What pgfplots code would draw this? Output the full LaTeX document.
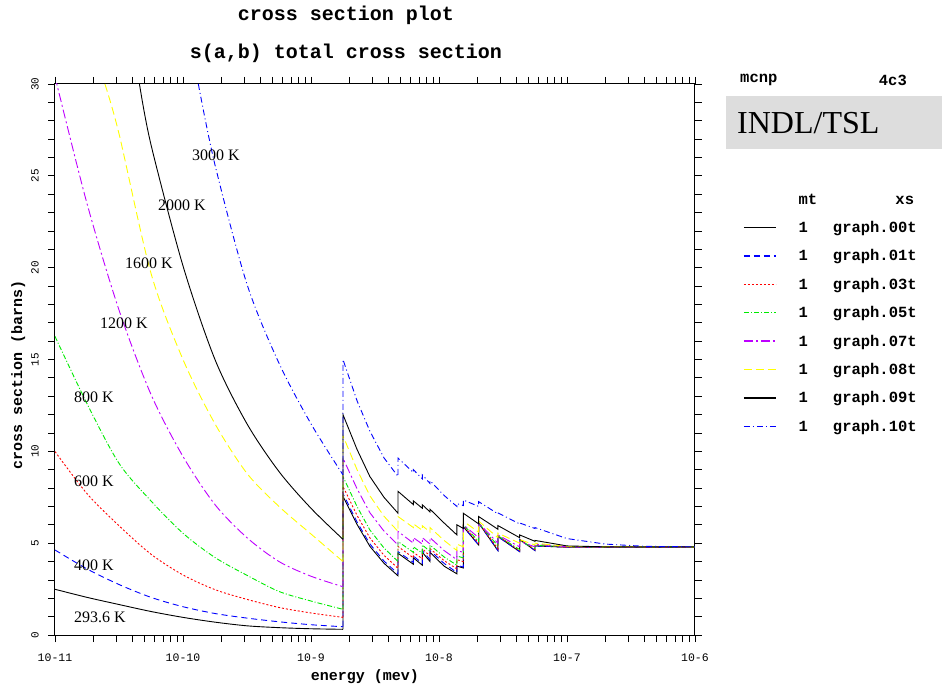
\documentclass[border=0pt]{standalone}
\usepackage{fontspec}
\setmainfont{Liberation Serif}
\setmonofont{Liberation Mono}
\usepackage{pgfplots}
\pgfplotsset{compat=1.18}
\definecolor{cpurple}{RGB}{190,0,255}
\definecolor{cblue}{RGB}{0,0,255}
\definecolor{cgreen}{RGB}{0,235,0}
\definecolor{cyellow}{RGB}{255,255,0}
\definecolor{cred}{RGB}{255,0,0}
\definecolor{boxgray}{RGB}{221,221,221}
\newcommand{\lgd}[2]{\makebox[118pt][l]{#1\hfill #2}}
\tikzset{
  s00/.style={color=black},
  s01/.style={color=cblue, dash pattern=on 6pt off 4pt},
  s03/.style={color=cred, dash pattern=on 2pt off 2pt},
  s05/.style={color=cgreen, dash pattern=on 5pt off 2pt on 1pt off 2pt},
  s07/.style={color=cpurple, dash pattern=on 9pt off 3pt on 2pt off 3pt},
  s08/.style={color=cyellow, dash pattern=on 8pt off 4pt},
  s09/.style={color=black},
  s10/.style={color=cblue, dash pattern=on 6pt off 3pt on 1pt off 3pt},
}
\begin{document}
\begin{tikzpicture}
\path[use as bounding box] (0pt,0pt) rectangle (942pt,686pt);
\begin{axis}[
  at={(55pt,51pt)}, anchor=south west,
  scale only axis, width=640pt, height=551pt,
  xmode=log, xmin=1e-11, xmax=1e-6, ymin=0, ymax=30,
  xtick={1e-11,1e-10,1e-9,1e-8,1e-7,1e-6},
  xticklabels={\texttt{10-11},\texttt{10-10},\texttt{10-9},\texttt{10-8},\texttt{10-7},\texttt{10-6}},
  ytick={0,5,10,15,20,25,30},
  yticklabels={\texttt{0},\texttt{5},\texttt{10},\texttt{15},\texttt{20},\texttt{25},\texttt{30}},
  minor y tick num=4,
  tick align=outside, major tick length=7pt, minor tick length=7pt,
  tick style={black, line width=0.8pt},
  axis line style={line width=1pt},
  xticklabel style={font=\fontsize{11.5}{12}\selectfont, anchor=center, yshift=-16pt},
  yticklabel style={font=\fontsize{11}{12}\selectfont, rotate=90, anchor=center, yshift=13pt},
  every axis plot/.append style={line width=0.9pt},
  legend style={draw=none, fill=none, at={(1.0703,0.806)}, anchor=north west,
    font=\ttfamily\bfseries\fontsize{15.5}{16}\selectfont,
    nodes={inner sep=0pt, text height=11pt, text depth=3pt},
    row sep=14.4pt, column sep=22pt},
  legend cell align=left,
  legend image code/.code={\draw[#1, line width=1.5pt] (0pt,1pt) -- (32pt,1pt);},
]
\addlegendimage{empty legend}
\addlegendentry{\lgd{mt}{xs\,}}

% ---- 293.6 K (graph.00t)
\addplot[s00, smooth, forget plot] coordinates {
(1e-11,2.49) (1.778e-11,2.05) (3.162e-11,1.66) (5.623e-11,1.28) (1e-10,0.96) (1.778e-10,0.70) (3.162e-10,0.50) (5.623e-10,0.40) (1e-9,0.34) (1.778e-9,0.31)};
\addplot[s00] coordinates {
(1.778e-9,0.31)
(1.778e-9,7.55) (2.291e-9,6.02) (2.884e-9,4.83) (3.715e-9,3.91) (4.786e-9,3.22)
(4.786e-9,4.45) (6.31e-9,3.85) (6.31e-9,4.2) (7.413e-9,3.8) (7.413e-9,4.5) (8.511e-9,4.0) (8.511e-9,4.5) (1.096e-8,3.75) (1.38e-8,3.33) (1.38e-8,3.75) (1.549e-8,3.65) (1.549e-8,5.9) (2.042e-8,4.9) (2.042e-8,6.1) (2.884e-8,4.6) (2.884e-8,5.36) (4.266e-8,4.54) (4.266e-8,5.2) (5.623e-8,4.6) (5.623e-8,4.85) (1e-7,4.78) (1e-6,4.78)};
\addlegendentry{\lgd{1}{graph.00t}}

% ---- 400 K (graph.01t)
\addplot[s01, smooth, forget plot] coordinates {
(1e-11,4.63) (1.778e-11,3.6) (3.162e-11,2.75) (5.623e-11,2.05) (1e-10,1.54) (1.778e-10,1.17) (3.162e-10,0.92) (5.623e-10,0.72) (1e-9,0.56) (1.778e-9,0.45)};
\addplot[s01] coordinates {
(1.778e-9,0.45)
(1.778e-9,7.7) (2.291e-9,6.15) (2.884e-9,4.96) (3.715e-9,4.03) (4.786e-9,3.33)
(4.786e-9,4.54) (6.31e-9,3.95) (6.31e-9,4.3) (7.413e-9,3.9) (7.413e-9,4.6) (8.511e-9,4.1) (8.511e-9,4.6) (1.096e-8,3.9) (1.38e-8,3.4) (1.38e-8,3.8) (1.549e-8,3.7) (1.549e-8,5.9) (2.042e-8,4.9) (2.042e-8,6.1) (2.884e-8,4.6) (2.884e-8,5.36) (4.266e-8,4.54) (4.266e-8,5.2) (5.623e-8,4.6) (5.623e-8,4.85) (1e-7,4.78) (1e-6,4.78)};
\addlegendentry{\lgd{1}{graph.01t}}

% ---- 600 K (graph.03t)
\addplot[s03, smooth, forget plot] coordinates {
(1e-11,9.99) (1.778e-11,7.7) (3.162e-11,5.95) (5.623e-11,4.4) (1e-10,3.27) (1.778e-10,2.47) (3.162e-10,1.94) (5.623e-10,1.5) (1e-9,1.2) (1.778e-9,0.96)};
\addplot[s03] coordinates {
(1.778e-9,0.96)
(1.778e-9,8.09) (2.291e-9,6.51) (2.884e-9,5.29) (3.715e-9,4.34) (4.786e-9,3.63)
(4.786e-9,4.82) (6.31e-9,4.2) (6.31e-9,4.5) (7.413e-9,4.15) (7.413e-9,4.7) (8.511e-9,4.3) (8.511e-9,4.7) (1.096e-8,4.05) (1.38e-8,3.6) (1.38e-8,4.1) (1.549e-8,4.0) (1.549e-8,5.95) (2.042e-8,5.0) (2.042e-8,6.1) (2.884e-8,4.7) (2.884e-8,5.4) (4.266e-8,4.6) (4.266e-8,5.2) (5.623e-8,4.65) (5.623e-8,4.9) (1e-7,4.78) (1e-6,4.78)};
\addlegendentry{\lgd{1}{graph.03t}}

% ---- 800 K (graph.05t)
\addplot[s05, smooth, forget plot] coordinates {
(1e-11,16.26) (1.778e-11,12.6) (3.162e-11,9.35) (5.623e-11,7.3) (1e-10,5.54) (1.778e-10,4.22) (3.162e-10,3.25) (5.623e-10,2.37) (1e-9,1.85) (1.778e-9,1.40)};
\addplot[s05] coordinates {
(1.778e-9,1.40)
(1.778e-9,8.63) (2.291e-9,6.99) (2.884e-9,5.72) (3.715e-9,4.74) (4.786e-9,4.0)
(4.786e-9,5.09) (6.31e-9,4.5) (6.31e-9,4.8) (7.413e-9,4.45) (7.413e-9,4.9) (8.511e-9,4.55) (8.511e-9,4.9) (1.096e-8,4.25) (1.38e-8,3.8) (1.38e-8,4.3) (1.549e-8,4.2) (1.549e-8,6.0) (2.042e-8,5.1) (2.042e-8,6.1) (2.884e-8,4.85) (2.884e-8,5.4) (4.266e-8,4.65) (4.266e-8,5.15) (5.623e-8,4.7) (5.623e-8,4.9) (1e-7,4.8) (1e-6,4.8)};
\addlegendentry{\lgd{1}{graph.05t}}

% ---- 1200 K (graph.07t)
\addplot[s07, smooth, forget plot] coordinates {
(1e-11,30.4) (1.778e-11,23.5) (3.162e-11,17.7) (5.623e-11,13.1) (1e-10,9.72) (1.778e-10,7.1) (3.162e-10,5.3) (5.623e-10,4.0) (1e-9,3.2) (1.778e-9,2.63)};
\addplot[s07] coordinates {
(1.778e-9,2.63)
(1.778e-9,9.63) (2.291e-9,7.96) (2.884e-9,6.66) (3.715e-9,5.66) (4.786e-9,4.9)
(4.786e-9,5.64) (6.31e-9,5.0) (6.31e-9,5.3) (7.413e-9,4.95) (7.413e-9,5.3) (8.511e-9,4.95) (8.511e-9,5.3) (1.096e-8,4.6) (1.38e-8,4.1) (1.38e-8,4.6) (1.549e-8,4.5) (1.549e-8,6.0) (2.042e-8,5.3) (2.042e-8,6.1) (2.884e-8,5.0) (2.884e-8,5.45) (4.266e-8,4.8) (4.266e-8,5.1) (5.623e-8,4.8) (5.623e-8,4.95) (1e-7,4.8) (1e-6,4.8)};
\addlegendentry{\lgd{1}{graph.07t}}

% ---- 1600 K (graph.08t)
\addplot[s08, smooth, forget plot] coordinates {
(2.455e-11,30) (3.162e-11,27.3) (5.623e-11,19.7) (1e-10,15.0) (1.778e-10,11.5) (3.162e-10,8.8) (5.623e-10,7.0) (1e-9,5.5) (1.778e-9,4.0)};
\addplot[s08] coordinates {
(1.778e-9,4.0)
(1.778e-9,10.85) (2.291e-9,9.0) (2.884e-9,7.58) (3.715e-9,6.47) (4.786e-9,5.64)
(4.786e-9,6.45) (6.31e-9,5.85) (6.31e-9,6.05) (7.413e-9,5.7) (7.413e-9,5.95) (8.511e-9,5.6) (8.511e-9,5.85) (1.096e-8,5.15) (1.38e-8,4.6) (1.38e-8,4.95) (1.549e-8,4.8) (1.549e-8,6.2) (2.042e-8,5.6) (2.042e-8,6.2) (2.884e-8,5.3) (2.884e-8,5.55) (4.266e-8,5.0) (4.266e-8,5.2) (5.623e-8,4.9) (5.623e-8,5.0) (1e-7,4.82) (1e-6,4.8)};
\addlegendentry{\lgd{1}{graph.08t}}

% ---- 2000 K (graph.09t)
\addplot[s09, smooth, forget plot] coordinates {
(4.571e-11,30) (5.623e-11,26.7) (1e-10,20.1) (1.778e-10,15.0) (3.162e-10,11.5) (5.623e-10,8.9) (1e-9,6.9) (1.778e-9,5.21)};
\addplot[s09] coordinates {
(1.778e-9,5.21)
(1.778e-9,12.0) (2.291e-9,10.1) (2.884e-9,8.63) (3.715e-9,7.5) (4.786e-9,6.63)
(4.786e-9,7.82) (6.31e-9,7.1) (6.31e-9,7.3) (7.413e-9,6.9) (7.413e-9,7.09) (8.511e-9,6.7) (8.511e-9,6.85) (1.096e-8,6.1) (1.38e-8,5.45) (1.38e-8,6.0) (1.549e-8,5.8) (1.549e-8,6.63) (2.042e-8,6.05) (2.042e-8,6.45) (2.884e-8,5.76) (2.884e-8,5.96) (4.266e-8,5.3) (4.266e-8,5.45) (5.623e-8,5.1) (5.623e-8,5.15) (1e-7,4.85) (2e-7,4.8) (1e-6,4.8)};
\addlegendentry{\lgd{1}{graph.09t}}

% ---- 3000 K (graph.10t)
\addplot[s10, smooth, forget plot] coordinates {
(1.318e-10,30) (1.778e-10,25.6) (3.162e-10,19.1) (5.623e-10,14.8) (1e-9,11.5) (1.778e-9,8.72)};
\addplot[s10] coordinates {
(1.778e-9,8.72)
(1.778e-9,15.0) (2.291e-9,12.75) (2.884e-9,11.1) (3.715e-9,9.65) (4.786e-9,8.63)
(4.786e-9,9.63) (6.31e-9,8.85) (6.31e-9,9.0) (7.413e-9,8.5) (7.413e-9,8.72) (8.511e-9,8.25) (8.511e-9,8.4) (1.096e-8,7.6) (1.38e-8,7.0) (1.38e-8,7.15) (1.549e-8,7.05) (1.549e-8,7.35) (2.042e-8,7.0) (2.042e-8,7.26) (2.884e-8,6.6) (2.884e-8,6.65) (4.266e-8,6.05) (4.266e-8,6.1) (5.623e-8,5.8) (5.623e-8,5.85) (1e-7,5.25) (2e-7,4.95) (4e-7,4.83) (1e-6,4.8)};
\addlegendentry{\lgd{1}{graph.10t}}
\end{axis}

% titles and labels
\node[anchor=base, font=\ttfamily\bfseries\fontsize{20}{22}\selectfont] at (346pt,665pt) {cross section plot};
\node[anchor=base, font=\ttfamily\bfseries\fontsize{20}{22}\selectfont] at (346pt,627pt) {s(a,b) total cross section};
\node[anchor=base, font=\ttfamily\bfseries\fontsize{15}{16}\selectfont] at (365pt,6pt) {energy (mev)};
\node[anchor=base, rotate=90, font=\ttfamily\bfseries\fontsize{15}{16}\selectfont] at (22pt,311pt) {cross section (barns)};

\node[anchor=west, font=\ttfamily\bfseries\fontsize{15.5}{16}\selectfont, inner sep=0pt] at (740pt,606pt) {mcnp};
\node[anchor=east, font=\ttfamily\bfseries\fontsize{15.5}{16}\selectfont, inner sep=0pt] at (907pt,606pt) {4c3};
\fill[boxgray] (726pt,590pt) rectangle (942pt,537pt);
\node[anchor=west, font=\fontsize{32}{34}\selectfont, inner sep=0pt] at (737pt,563pt) {INDL/TSL};

% temperature labels
\begin{scope}[every node/.style={anchor=west, inner sep=0pt, font=\fontsize{16}{18}\selectfont}]
\node at (192pt,531pt) {3000 K};
\node at (158pt,481pt) {2000 K};
\node at (125pt,423pt) {1600 K};
\node at (100pt,363pt) {1200 K};
\node at (74pt,289pt) {800 K};
\node at (74pt,205pt) {600 K};
\node at (74pt,121pt) {400 K};
\node at (74pt,69pt) {293.6 K};
\end{scope}
\end{tikzpicture}
\end{document}
